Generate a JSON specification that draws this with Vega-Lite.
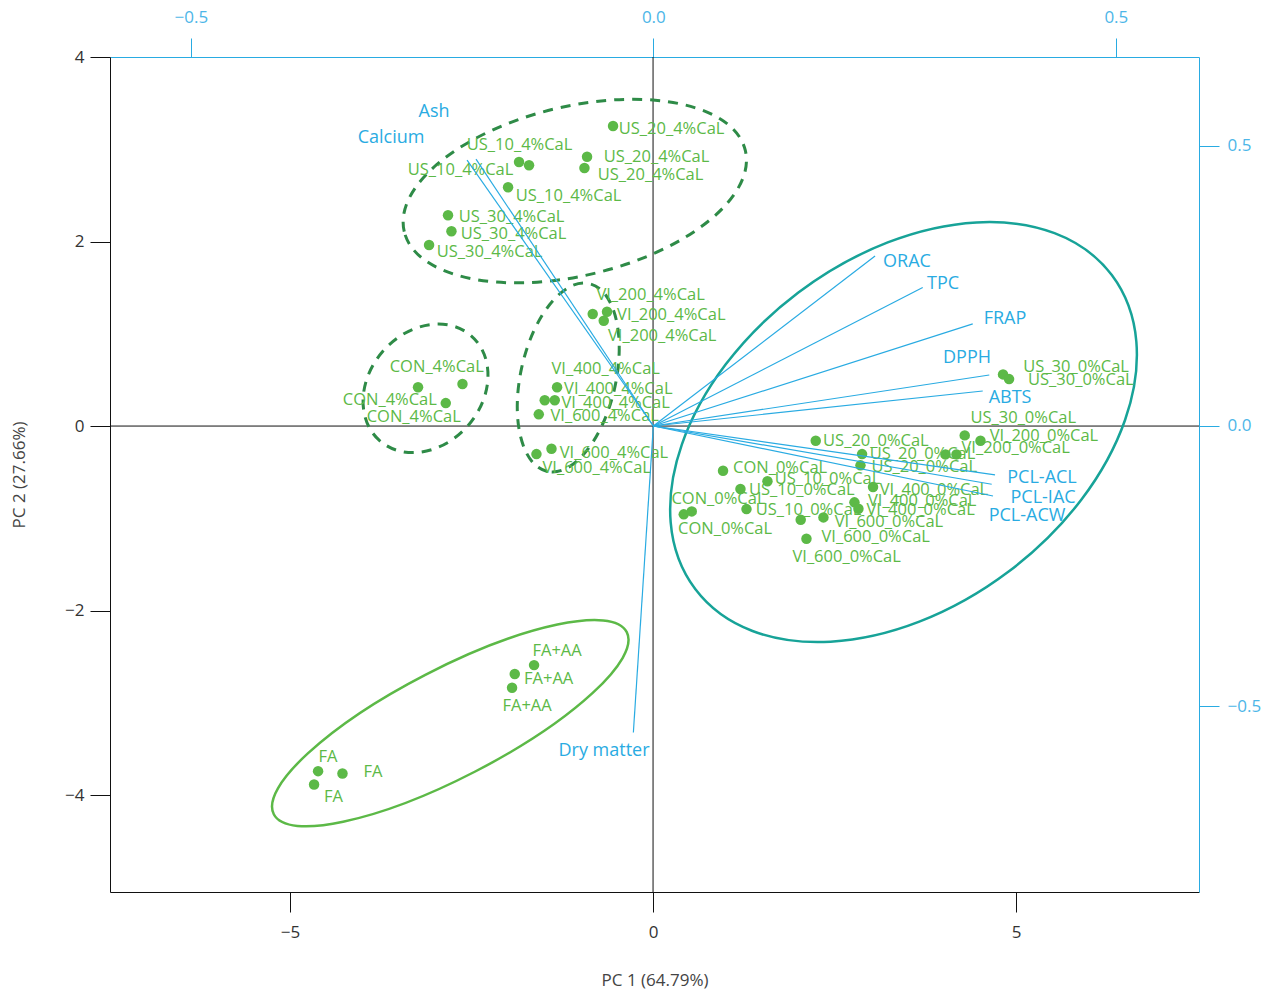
{
  "$schema": "https://vega.github.io/schema/vega-lite/v6.json",
  "width": 1089,
  "height": 835,
  "autosize": {"type": "none"},
  "padding": {"left": 110, "top": 57, "right": 75, "bottom": 100},
  "background": "white",
  "config": {
    "view": {"stroke": null},
    "font": "Open Sans",
    "axis": {"grid": false, "labelFont": "Open Sans", "titleFont": "Open Sans", "titleFontWeight": "normal"}
  },
  "datasets": {
    "scores": [
      {"sample": "US_20_4%CaL", "pc1": -0.551, "pc2": 3.252},
      {"sample": "US_20_4%CaL", "pc1": -0.909, "pc2": 2.919},
      {"sample": "US_20_4%CaL", "pc1": -0.945, "pc2": 2.797},
      {"sample": "US_10_4%CaL", "pc1": -1.846, "pc2": 2.862},
      {"sample": "US_10_4%CaL", "pc1": -1.708, "pc2": 2.826},
      {"sample": "US_10_4%CaL", "pc1": -1.997, "pc2": 2.588},
      {"sample": "US_30_4%CaL", "pc1": -2.824, "pc2": 2.284},
      {"sample": "US_30_4%CaL", "pc1": -2.777, "pc2": 2.111},
      {"sample": "US_30_4%CaL", "pc1": -3.085, "pc2": 1.962},
      {"sample": "CON_4%CaL", "pc1": -3.237, "pc2": 0.42},
      {"sample": "CON_4%CaL", "pc1": -2.625, "pc2": 0.455},
      {"sample": "CON_4%CaL", "pc1": -2.855, "pc2": 0.249},
      {"sample": "VI_200_4%CaL", "pc1": -0.831, "pc2": 1.214},
      {"sample": "VI_200_4%CaL", "pc1": -0.634, "pc2": 1.239},
      {"sample": "VI_200_4%CaL", "pc1": -0.679, "pc2": 1.141},
      {"sample": "VI_400_4%CaL", "pc1": -1.322, "pc2": 0.42},
      {"sample": "VI_400_4%CaL", "pc1": -1.492, "pc2": 0.279},
      {"sample": "VI_400_4%CaL", "pc1": -1.354, "pc2": 0.279},
      {"sample": "VI_600_4%CaL", "pc1": -1.574, "pc2": 0.127},
      {"sample": "VI_600_4%CaL", "pc1": -1.399, "pc2": -0.246},
      {"sample": "VI_600_4%CaL", "pc1": -1.606, "pc2": -0.304},
      {"sample": "US_20_0%CaL", "pc1": 2.241, "pc2": -0.159},
      {"sample": "US_20_0%CaL", "pc1": 2.879, "pc2": -0.304},
      {"sample": "US_20_0%CaL", "pc1": 2.857, "pc2": -0.426},
      {"sample": "CON_0%CaL", "pc1": 0.964, "pc2": -0.485},
      {"sample": "CON_0%CaL", "pc1": 0.423, "pc2": -0.957},
      {"sample": "CON_0%CaL", "pc1": 0.533, "pc2": -0.925},
      {"sample": "US_10_0%CaL", "pc1": 1.576, "pc2": -0.599},
      {"sample": "US_10_0%CaL", "pc1": 1.204, "pc2": -0.683},
      {"sample": "US_10_0%CaL", "pc1": 1.287, "pc2": -0.9},
      {"sample": "VI_600_0%CaL", "pc1": 2.034, "pc2": -1.016},
      {"sample": "VI_600_0%CaL", "pc1": 2.347, "pc2": -0.99},
      {"sample": "VI_600_0%CaL", "pc1": 2.113, "pc2": -1.222},
      {"sample": "VI_400_0%CaL", "pc1": 3.03, "pc2": -0.661},
      {"sample": "VI_400_0%CaL", "pc1": 2.774, "pc2": -0.827},
      {"sample": "VI_400_0%CaL", "pc1": 2.829, "pc2": -0.896},
      {"sample": "US_30_0%CaL", "pc1": 4.821, "pc2": 0.56},
      {"sample": "US_30_0%CaL", "pc1": 4.904, "pc2": 0.509},
      {"sample": "US_30_0%CaL", "pc1": 4.293, "pc2": -0.101},
      {"sample": "VI_200_0%CaL", "pc1": 4.51, "pc2": -0.159},
      {"sample": "VI_200_0%CaL", "pc1": 4.179, "pc2": -0.307},
      {"sample": "VI_200_0%CaL", "pc1": 4.028, "pc2": -0.307},
      {"sample": "FA+AA", "pc1": -1.639, "pc2": -2.591},
      {"sample": "FA+AA", "pc1": -1.905, "pc2": -2.688},
      {"sample": "FA+AA", "pc1": -1.942, "pc2": -2.837},
      {"sample": "FA", "pc1": -4.614, "pc2": -3.74},
      {"sample": "FA", "pc1": -4.278, "pc2": -3.765},
      {"sample": "FA", "pc1": -4.669, "pc2": -3.884}
    ],
    "scoreLabels": [
      {"text": "US_20_4%CaL", "pc1": -0.472, "pc2": 3.22},
      {"text": "US_20_4%CaL", "pc1": -0.679, "pc2": 2.916},
      {"text": "US_20_4%CaL", "pc1": -0.762, "pc2": 2.721},
      {"text": "US_10_4%CaL", "pc1": -2.566, "pc2": 3.046},
      {"text": "US_10_4%CaL", "pc1": -3.379, "pc2": 2.775},
      {"text": "US_10_4%CaL", "pc1": -1.891, "pc2": 2.493},
      {"text": "US_30_4%CaL", "pc1": -2.676, "pc2": 2.266},
      {"text": "US_30_4%CaL", "pc1": -2.649, "pc2": 2.081},
      {"text": "US_30_4%CaL", "pc1": -2.979, "pc2": 1.886},
      {"text": "CON_4%CaL", "pc1": -3.627, "pc2": 0.64},
      {"text": "CON_4%CaL", "pc1": -4.274, "pc2": 0.282},
      {"text": "CON_4%CaL", "pc1": -3.944, "pc2": 0.101},
      {"text": "VI_200_4%CaL", "pc1": -0.78, "pc2": 1.42},
      {"text": "VI_200_4%CaL", "pc1": -0.496, "pc2": 1.203},
      {"text": "VI_200_4%CaL", "pc1": -0.62, "pc2": 0.976},
      {"text": "VI_400_4%CaL", "pc1": -1.399, "pc2": 0.615},
      {"text": "VI_400_4%CaL", "pc1": -1.226, "pc2": 0.404},
      {"text": "VI_400_4%CaL", "pc1": -1.262, "pc2": 0.246},
      {"text": "VI_600_4%CaL", "pc1": -1.413, "pc2": 0.108},
      {"text": "VI_600_4%CaL", "pc1": -1.285, "pc2": -0.289},
      {"text": "VI_600_4%CaL", "pc1": -1.523, "pc2": -0.459},
      {"text": "US_20_0%CaL", "pc1": 2.342, "pc2": -0.159},
      {"text": "US_20_0%CaL", "pc1": 2.985, "pc2": -0.307},
      {"text": "US_20_0%CaL", "pc1": 3.008, "pc2": -0.441},
      {"text": "CON_0%CaL", "pc1": 1.102, "pc2": -0.459},
      {"text": "CON_0%CaL", "pc1": 0.253, "pc2": -0.795},
      {"text": "CON_0%CaL", "pc1": 0.344, "pc2": -1.12},
      {"text": "US_10_0%CaL", "pc1": 1.676, "pc2": -0.578},
      {"text": "US_10_0%CaL", "pc1": 1.322, "pc2": -0.694},
      {"text": "US_10_0%CaL", "pc1": 1.415, "pc2": -0.911},
      {"text": "VI_600_0%CaL", "pc1": 2.503, "pc2": -1.037},
      {"text": "VI_600_0%CaL", "pc1": 2.32, "pc2": -1.2},
      {"text": "VI_600_0%CaL", "pc1": 1.92, "pc2": -1.423},
      {"text": "VI_400_0%CaL", "pc1": 3.123, "pc2": -0.694},
      {"text": "VI_400_0%CaL", "pc1": 2.961, "pc2": -0.81},
      {"text": "VI_400_0%CaL", "pc1": 2.939, "pc2": -0.911},
      {"text": "US_30_0%CaL", "pc1": 5.1, "pc2": 0.636},
      {"text": "US_30_0%CaL", "pc1": 5.165, "pc2": 0.499},
      {"text": "US_30_0%CaL", "pc1": 4.372, "pc2": 0.087},
      {"text": "VI_200_0%CaL", "pc1": 4.638, "pc2": -0.105},
      {"text": "VI_200_0%CaL", "pc1": 4.248, "pc2": -0.242},
      {"text": "FA+AA", "pc1": -1.661, "pc2": -2.436},
      {"text": "FA+AA", "pc1": -1.777, "pc2": -2.746},
      {"text": "FA+AA", "pc1": -2.074, "pc2": -3.035},
      {"text": "FA", "pc1": -4.609, "pc2": -3.585},
      {"text": "FA", "pc1": -3.989, "pc2": -3.747},
      {"text": "FA", "pc1": -4.532, "pc2": -4.018}
    ],
    "loadings": [
      {"variable": "Ash", "x": -0.1917, "y": 0.476, "lx": -0.2371, "ly": 0.5597},
      {"variable": "Calcium", "x": -0.2014, "y": 0.474, "lx": -0.2836, "ly": 0.5134},
      {"variable": "ORAC", "x": 0.2397, "y": 0.303, "lx": 0.2742, "ly": 0.2923},
      {"variable": "TPC", "x": 0.2912, "y": 0.247, "lx": 0.3132, "ly": 0.2531},
      {"variable": "FRAP", "x": 0.3453, "y": 0.182, "lx": 0.3801, "ly": 0.1907},
      {"variable": "DPPH", "x": 0.3632, "y": 0.0909, "lx": 0.3391, "ly": 0.1212},
      {"variable": "ABTS", "x": 0.3561, "y": 0.0624, "lx": 0.3856, "ly": 0.0499},
      {"variable": "PCL-ACL", "x": 0.3694, "y": -0.0873, "lx": 0.4202, "ly": -0.0927},
      {"variable": "PCL-IAC", "x": 0.3658, "y": -0.1039, "lx": 0.4213, "ly": -0.1283},
      {"variable": "PCL-ACW", "x": 0.3672, "y": -0.1248, "lx": 0.404, "ly": -0.1604},
      {"variable": "Dry matter", "x": -0.0216, "y": -0.5467, "lx": -0.0533, "ly": -0.5793}
    ]
  },
  "layer": [
    {
      "layer": [
        {
          "data": {"values": [{"pc2": 0}]},
          "mark": {"type": "rule", "color": "#111111", "strokeWidth": 1},
          "encoding": {
            "y": {
              "field": "pc2", "type": "quantitative",
              "scale": {"domain": [-5.05, 4], "nice": false, "zero": false},
              "axis": {
                "orient": "left", "values": [-4, -2, 0, 2, 4], "format": "d",
                "domainColor": "#111111", "tickColor": "#111111", "tickSize": 20,
                "labelColor": "#333333", "labelFontSize": 17, "labelPadding": 6,
                "title": "PC 2 (27.66%)", "titleColor": "#444444", "titleFontSize": 17, "titlePadding": 36
              }
            }
          }
        },
        {
          "data": {"values": [{"pc1": 0}]},
          "mark": {"type": "rule", "color": "#111111", "strokeWidth": 1},
          "encoding": {
            "x": {
              "field": "pc1", "type": "quantitative",
              "scale": {"domain": [-7.48, 7.52], "nice": false, "zero": false},
              "axis": {
                "orient": "bottom", "values": [-5, 0, 5], "format": "d",
                "domainColor": "#111111", "tickColor": "#111111", "tickSize": 20,
                "labelColor": "#333333", "labelFontSize": 17, "labelPadding": 12,
                "title": "PC 1 (64.79%)", "titleColor": "#444444", "titleFontSize": 17, "titlePadding": 32
              }
            }
          }
        },
        {
          "data": {"values": [{"group": "US 4% CaL", "pc1": -1.078, "pc2": 2.547}]},
          "mark": {"type": "point", "shape": "M -175.3 0 A 175.3 84.6 0 1 1 175.3 0 A 175.3 84.6 0 1 1 -175.3 0 Z", "size": 4, "angle": -13.4, "filled": false, "stroke": "#2e8b47", "strokeWidth": 3, "strokeDash": [10, 8], "opacity": 1},
          "encoding": {"x": {"field": "pc1", "type": "quantitative"}, "y": {"field": "pc2", "type": "quantitative"}}
        },
        {
          "data": {"values": [{"group": "CON 4% CaL", "pc1": -3.134, "pc2": 0.409}]},
          "mark": {"type": "point", "shape": "M -69.6 0 A 69.6 56.5 0 1 1 69.6 0 A 69.6 56.5 0 1 1 -69.6 0 Z", "size": 4, "angle": -49, "filled": false, "stroke": "#2e8b47", "strokeWidth": 3, "strokeDash": [10, 8], "opacity": 1},
          "encoding": {"x": {"field": "pc1", "type": "quantitative"}, "y": {"field": "pc2", "type": "quantitative"}}
        },
        {
          "data": {"values": [{"group": "VI 4% CaL", "pc1": -1.168, "pc2": 0.526}]},
          "mark": {"type": "point", "shape": "M -96.2 0 A 96.2 47.6 0 1 1 96.2 0 A 96.2 47.6 0 1 1 -96.2 0 Z", "size": 4, "angle": -77.4, "filled": false, "stroke": "#2e8b47", "strokeWidth": 3, "strokeDash": [10, 8], "opacity": 1},
          "encoding": {"x": {"field": "pc1", "type": "quantitative"}, "y": {"field": "pc2", "type": "quantitative"}}
        },
        {
          "data": {"values": [{"group": "0% CaL", "pc1": 3.45, "pc2": -0.065}]},
          "mark": {"type": "point", "shape": "M -260.8 0 A 260.8 174.7 0 1 1 260.8 0 A 260.8 174.7 0 1 1 -260.8 0 Z", "size": 4, "angle": -37, "filled": false, "stroke": "#17a398", "strokeWidth": 2.5, "opacity": 1},
          "encoding": {"x": {"field": "pc1", "type": "quantitative"}, "y": {"field": "pc2", "type": "quantitative"}}
        },
        {
          "data": {"values": [{"group": "FA", "pc1": -2.793, "pc2": -3.22}]},
          "mark": {"type": "point", "shape": "M -198.6 0 A 198.6 54.4 0 1 1 198.6 0 A 198.6 54.4 0 1 1 -198.6 0 Z", "size": 4, "angle": -27.3, "filled": false, "stroke": "#5cb947", "strokeWidth": 2.5, "opacity": 1},
          "encoding": {"x": {"field": "pc1", "type": "quantitative"}, "y": {"field": "pc2", "type": "quantitative"}}
        },
        {
          "data": {"name": "scores"},
          "mark": {"type": "circle", "size": 110, "color": "#5cb947", "opacity": 1},
          "encoding": {"x": {"field": "pc1", "type": "quantitative"}, "y": {"field": "pc2", "type": "quantitative"}}
        },
        {
          "data": {"name": "scoreLabels"},
          "mark": {"type": "text", "align": "left", "baseline": "middle", "font": "Open Sans", "fontSize": 16.5, "color": "#5cb947"},
          "encoding": {"x": {"field": "pc1", "type": "quantitative"}, "y": {"field": "pc2", "type": "quantitative"}, "text": {"field": "text"}}
        }
      ]
    },
    {
      "data": {"name": "loadings"},
      "layer": [
        {
          "mark": {"type": "rule", "color": "#29abe2", "strokeWidth": 1.2},
          "encoding": {
            "x": {
              "field": "x", "type": "quantitative",
              "scale": {"domain": [-0.5874, 0.5899], "nice": false, "zero": false},
              "axis": {
                "orient": "top", "values": [-0.5, 0, 0.5], "format": ".1f",
                "domainColor": "#29abe2", "tickColor": "#29abe2", "tickSize": 19,
                "labelColor": "#4db6e8", "labelFontSize": 17, "labelPadding": 12, "title": null
              }
            },
            "x2": {"datum": 0},
            "y": {
              "field": "y", "type": "quantitative",
              "scale": {"domain": [-0.831, 0.658], "nice": false, "zero": false},
              "axis": {
                "orient": "right", "values": [-0.5, 0, 0.5], "format": ".1f",
                "domainColor": "#29abe2", "tickColor": "#29abe2", "tickSize": 20,
                "labelColor": "#4db6e8", "labelFontSize": 17, "labelPadding": 8, "title": null
              }
            },
            "y2": {"datum": 0}
          }
        },
        {
          "mark": {"type": "text", "align": "center", "baseline": "middle", "font": "Open Sans", "fontSize": 18, "color": "#29abe2"},
          "encoding": {
            "x": {"field": "lx", "type": "quantitative"},
            "y": {"field": "ly", "type": "quantitative"},
            "text": {"field": "variable"}
          }
        }
      ]
    }
  ],
  "resolve": {"scale": {"x": "independent", "y": "independent"}, "axis": {"x": "independent", "y": "independent"}}
}
